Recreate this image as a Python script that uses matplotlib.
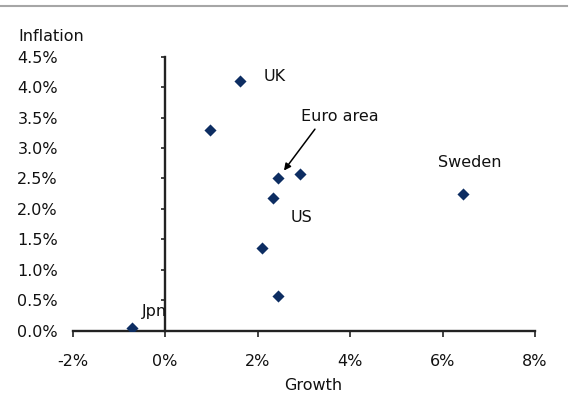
import numpy as np
import matplotlib
matplotlib.use("Agg")
import matplotlib.pyplot as plt
from matplotlib.lines import Line2D
from matplotlib.ticker import FuncFormatter

# Growth vs inflation, one point per economy
growth = [-0.72, 2.44, 1.62, 0.97, 2.44, 2.92, 2.33, 2.10, 6.45]
inflation = [0.04, 0.57, 4.10, 3.30, 2.50, 2.57, 2.18, 1.36, 2.24]
x_ticks = [-2, 0, 2, 4, 6, 8]
y_ticks = [0.0, 0.5, 1.0, 1.5, 2.0, 2.5, 3.0, 3.5, 4.0, 4.5]

navy = '#0d2d62'
ink = '#111111'

plt.rcParams['font.family'] = ['DejaVu Sans']
plt.rcParams['axes.unicode_minus'] = False

fig = plt.figure(figsize=(5.7, 3.99), dpi=100)
ax = fig.add_axes([0.1275, 0.1712, 0.9386 - 0.1275, 0.8579 - 0.1712])

ax.scatter(growth, inflation, marker='D', s=38, color=navy, zorder=3, linewidths=0)

ax.set_xlim(-2, 8)
ax.set_ylim(0, 4.5)
ax.set_xticks(x_ticks)
ax.set_yticks(y_ticks)
ax.xaxis.set_major_formatter(FuncFormatter(lambda v, p: '%d%%' % v))
ax.yaxis.set_major_formatter(FuncFormatter(lambda v, p: '%.1f%%' % v))

for s in ['top', 'right', 'left']:
    ax.spines[s].set_visible(False)
ax.spines['bottom'].set_linewidth(1.7)
ax.spines['bottom'].set_color('#222222')
ax.tick_params(axis='x', direction='out', length=4, width=1.2, color='#222222',
               labelsize=11.5, labelcolor=ink, pad=13)
ax.tick_params(axis='y', length=0, labelsize=11.5, labelcolor=ink, pad=10.6)

# vertical axis line crossing at 0% growth
sec = ax.secondary_yaxis(0.2)
sec.set_yticks(y_ticks, labels=[])
sec.spines['left'].set_linewidth(1.7)
sec.spines['left'].set_color('#222222')
sec.tick_params(direction='out', length=3, width=1.2, color='#222222')

# country labels
lab = dict(fontsize=11.5, color=ink, va='center', ha='left')
ax.text(2.12, 4.17, 'UK', **lab)
ax.text(2.94, 3.51, 'Euro area', **lab)
ax.text(2.72, 1.86, 'US', **lab)
ax.text(5.91, 2.76, 'Sweden', **lab)
ax.text(-0.51, 0.31, 'Jpn', **lab)
ax.annotate('', xy=(2.57, 2.63), xytext=(3.24, 3.31),
            arrowprops=dict(arrowstyle='-|>', color='black', lw=1.1,
                            mutation_scale=10, shrinkA=0, shrinkB=0))

fig.text(18 / 570, 1 - 36.7 / 399, 'Inflation', fontsize=11.5, color=ink,
         ha='left', va='center')
fig.text(313 / 570, 1 - 386 / 399, 'Growth', fontsize=11.5, color=ink,
         ha='center', va='center')

fig.add_artist(Line2D([0, 567 / 570], [1 - 6 / 399, 1 - 6 / 399],
                      transform=fig.transFigure, color='#a6a6a6', lw=1.5))

fig.savefig('out.png', dpi=100)
